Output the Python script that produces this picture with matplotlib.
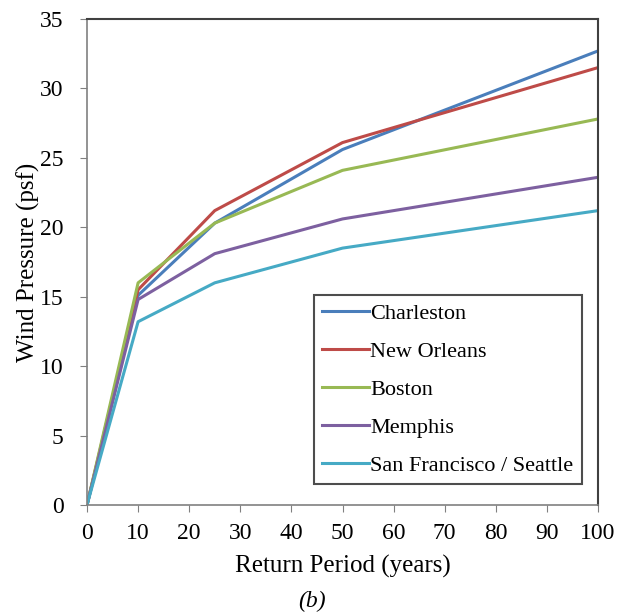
import matplotlib.pyplot as plt

plt.rcParams['font.family'] = ['Liberation Serif', 'DejaVu Serif']

# return periods (years) and wind pressure (psf) per city
years = [0, 10, 25, 50, 100]
charleston = [0, 15.1, 20.3, 25.6, 32.7]
new_orleans = [0, 15.5, 21.2, 26.1, 31.5]
boston = [0, 16.0, 20.3, 24.1, 27.8]
memphis = [0, 14.8, 18.1, 20.6, 23.6]
sf_seattle = [0, 13.2, 16.0, 18.5, 21.2]

names = ['Charleston', 'New Orleans', 'Boston', 'Memphis', 'San Francisco / Seattle']
colors = ['#4a7ebb', '#be4b48', '#98b954', '#7d60a0', '#46aac5']
series = [charleston, new_orleans, boston, memphis, sf_seattle]

fig = plt.figure(figsize=(6.23, 6.16), dpi=100)
ax = fig.add_axes([87/623, 111/616, 511/623, 486/616])

for vals, name, c in zip(series, names, colors):
    ax.plot(years, vals, color=c, lw=2.2, label=name)

ax.set_xlim(0, 100)
ax.set_ylim(0, 35)
ax.set_xticks(range(0, 101, 10))
ax.set_yticks(range(0, 36, 5))
ax.tick_params(labelsize=17, direction='out', length=5, color='#808080')
ax.tick_params(axis='x', pad=8)
ax.tick_params(axis='y', pad=12)
for s in ['left', 'bottom']:
    ax.spines[s].set_color('#808080')
    ax.spines[s].set_linewidth(1.2)
for s in ['top', 'right']:
    ax.spines[s].set_color('#404040')
    ax.spines[s].set_linewidth(1.5)

ax.set_xlabel('Return Period (years)', fontsize=18, labelpad=8)
ax.set_ylabel('Wind Pressure (psf)', fontsize=18, labelpad=0)

leg = ax.legend(loc='lower right', bbox_to_anchor=(0.968, 0.043), fontsize=16,
                frameon=True, fancybox=False, handlelength=2.1, handletextpad=0.05,
                labelspacing=0.78, borderpad=0.38, borderaxespad=0)
leg.get_frame().set_edgecolor('#202020')
leg.get_frame().set_linewidth(1.5)

fig.text(0.5, 15/616, '(b)', ha='center', va='center', fontsize=17, style='italic')

fig.savefig('out.png', dpi=100)
